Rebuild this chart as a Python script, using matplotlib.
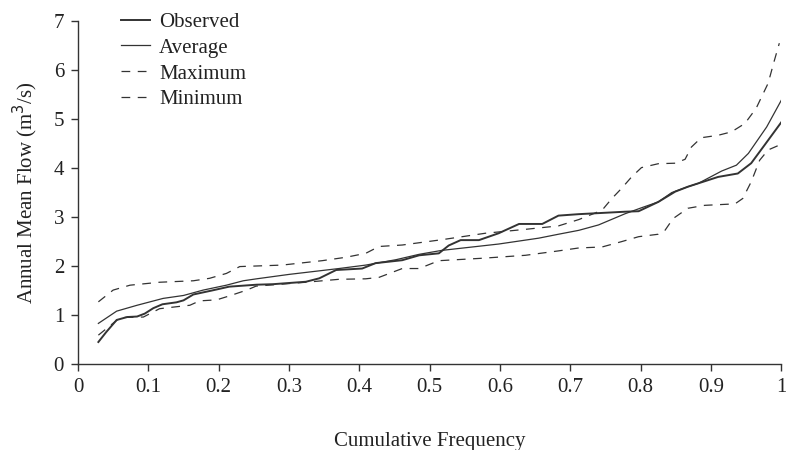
import matplotlib
matplotlib.use("Agg")
import matplotlib.pyplot as plt

plt.rcParams['font.family'] = ['Liberation Serif', 'DejaVu Serif']

obs_x = [0.029, 0.04, 0.055, 0.07, 0.084, 0.095, 0.107, 0.12, 0.14, 0.15, 0.164, 0.19, 0.215,
         0.254, 0.277, 0.324, 0.343, 0.367, 0.404, 0.423, 0.461, 0.485, 0.513, 0.527, 0.544,
         0.57, 0.598, 0.627, 0.66, 0.683, 0.712, 0.778, 0.797, 0.825, 0.849, 0.867, 0.882,
         0.91, 0.938, 0.957, 0.976, 1.0]
obs_y = [0.45, 0.65, 0.90, 0.96, 0.97, 1.03, 1.14, 1.22, 1.26, 1.30, 1.42, 1.50, 1.58,
         1.62, 1.63, 1.68, 1.75, 1.92, 1.95, 2.06, 2.12, 2.22, 2.26, 2.42, 2.53,
         2.53, 2.67, 2.86, 2.86, 3.03, 3.06, 3.11, 3.12, 3.31, 3.52, 3.62, 3.69,
         3.82, 3.89, 4.10, 4.47, 4.94]

avg_x = [0.029, 0.055, 0.084, 0.121, 0.15, 0.178, 0.211, 0.235, 0.254, 0.30, 0.371, 0.409,
         0.452, 0.485, 0.517, 0.598, 0.655, 0.683, 0.712, 0.74, 0.778, 0.801, 0.825, 0.844,
         0.867, 0.882, 0.915, 0.936, 0.953, 0.979, 1.0]
avg_y = [0.83, 1.08, 1.20, 1.34, 1.40, 1.51, 1.61, 1.70, 1.74, 1.83, 1.95, 2.02,
         2.13, 2.24, 2.32, 2.45, 2.57, 2.65, 2.73, 2.84, 3.07, 3.19, 3.31, 3.50,
         3.62, 3.69, 3.94, 4.06, 4.30, 4.84, 5.39]

max_x = [0.029, 0.05, 0.074, 0.116, 0.164, 0.187, 0.211, 0.23, 0.29, 0.347, 0.381, 0.409,
         0.428, 0.461, 0.518, 0.579, 0.636, 0.683, 0.712, 0.745, 0.759, 0.773, 0.787, 0.801,
         0.825, 0.849, 0.863, 0.872, 0.886, 0.91, 0.929, 0.948, 0.964, 0.981, 0.99, 0.997]
max_y = [1.27, 1.51, 1.61, 1.67, 1.70, 1.75, 1.85, 1.99, 2.02, 2.11, 2.18, 2.26,
         2.40, 2.43, 2.54, 2.67, 2.75, 2.82, 2.95, 3.14, 3.38, 3.59, 3.82, 4.01,
         4.09, 4.10, 4.18, 4.43, 4.62, 4.67, 4.74, 4.91, 5.22, 5.73, 6.2, 6.55]

min_x = [0.029, 0.06, 0.093, 0.116, 0.14, 0.159, 0.173, 0.197, 0.215, 0.24, 0.253, 0.324,
         0.371, 0.409, 0.428, 0.461, 0.485, 0.513, 0.575, 0.636, 0.683, 0.712, 0.745, 0.773,
         0.797, 0.825, 0.834, 0.846, 0.867, 0.891, 0.934, 0.945, 0.957, 0.969, 0.981, 0.997]
min_y = [0.59, 0.95, 0.96, 1.13, 1.17, 1.20, 1.29, 1.31, 1.39, 1.51, 1.59, 1.67,
         1.73, 1.74, 1.77, 1.95, 1.95, 2.11, 2.16, 2.22, 2.31, 2.37, 2.39, 2.50,
         2.60, 2.65, 2.72, 2.97, 3.18, 3.24, 3.27, 3.38, 3.72, 4.16, 4.37, 4.47]

xticks = [0, 0.1, 0.2, 0.3, 0.4, 0.5, 0.6, 0.7, 0.8, 0.9, 1]
xlabels = ["0", "0.1", "0.2", "0.3", "0.4", "0.5", "0.6", "0.7", "0.8", "0.9", "1"]
yticks = [0, 1, 2, 3, 4, 5, 6, 7]

col = "#333333"
txt = "#222222"
fs = 15

fig = plt.figure(figsize=(7.86, 4.5), dpi=100)
ax = fig.add_axes([0.0992, 0.191, 0.895, 0.762])

ax.plot(obs_x, obs_y, color=col, lw=1.4, label="Observed")
ax.plot(avg_x, avg_y, color=col, lw=0.9, label="Average")
ax.plot(max_x, max_y, color=col, lw=0.9, dashes=(7, 6), label="Maximum")
ax.plot(min_x, min_y, color=col, lw=0.9, dashes=(7, 6), label="Minimum")

ax.set_xlim(0, 1)
ax.set_ylim(0, 7)
ax.set_xticks(xticks)
ax.set_xticklabels(xlabels)
ax.set_yticks(yticks)
ax.spines['top'].set_visible(False)
ax.spines['right'].set_visible(False)
for s in ['left', 'bottom']:
    ax.spines[s].set_color(col)
    ax.spines[s].set_linewidth(1.0)
ax.tick_params(direction='out', length=5, width=1, color=col, labelsize=fs, labelcolor=txt, pad=5)

ax.set_xlabel("Cumulative Frequency", fontsize=fs, color=txt, labelpad=25)
ax.set_ylabel("Annual Mean Flow (m$^3$/s)", fontsize=fs, color=txt, labelpad=10)

leg = fig.legend(loc="upper left", bbox_to_anchor=(0.135, 1.005), frameon=False,
                 fontsize=fs, handlelength=1.4, handletextpad=0.45, labelspacing=0.3,
                 borderpad=0.2, labelcolor=txt)

plt.savefig("out.png", dpi=100)
